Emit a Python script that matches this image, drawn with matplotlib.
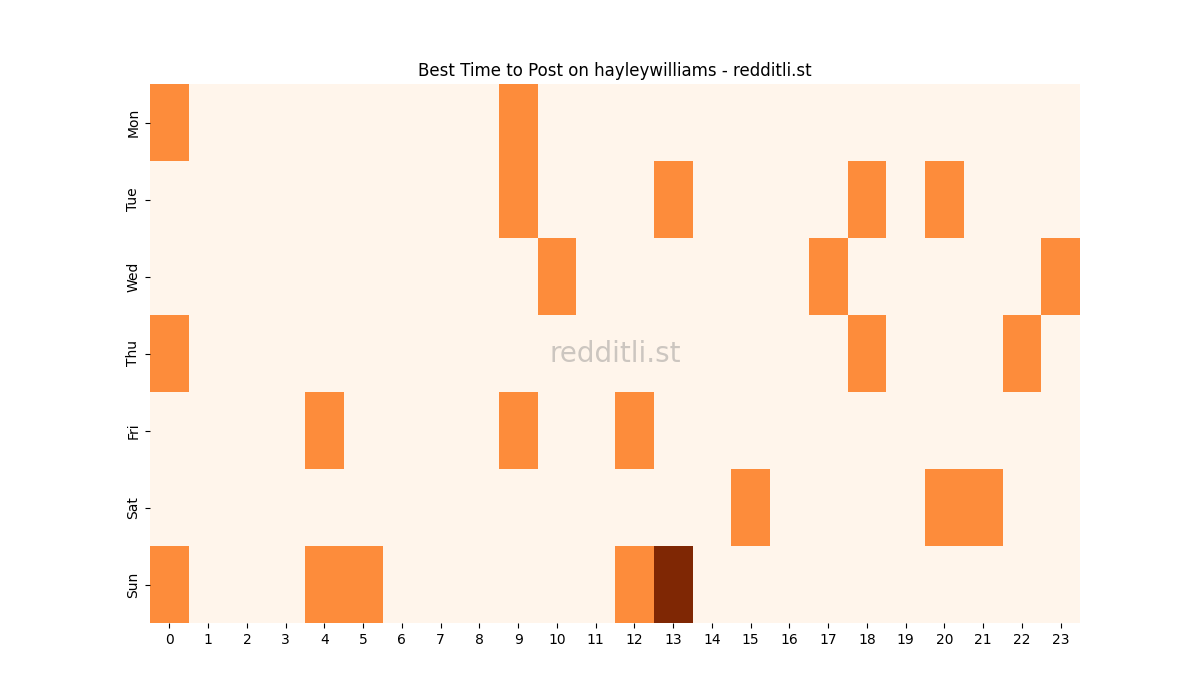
import matplotlib
matplotlib.use("Agg")
import matplotlib.pyplot as plt
import numpy as np
import seaborn as sns

days = ["Mon", "Tue", "Wed", "Thu", "Fri", "Sat", "Sun"]
hours = list(range(24))

# hours with posts per day (value 1), plus peak cells (value 2)
active = {
    "Mon": [0, 9],
    "Tue": [9, 13, 18, 20],
    "Wed": [10, 17, 23],
    "Thu": [0, 18, 22],
    "Fri": [4, 9, 12],
    "Sat": [15, 20, 21],
    "Sun": [0, 4, 5, 12],
}
peak = {"Sun": [13]}

grid = np.zeros((len(days), len(hours)))
for i, d in enumerate(days):
    for h in active.get(d, []):
        grid[i, h] = 1
    for h in peak.get(d, []):
        grid[i, h] = 2

fig, ax = plt.subplots(figsize=(12, 7), dpi=100)
sns.heatmap(grid, cmap="Oranges", cbar=False, ax=ax,
            xticklabels=hours, yticklabels=days)
ax.set_title("Best Time to Post on hayleywilliams - redditli.st")
ax.text(0.5, 0.5, "redditli.st", transform=ax.transAxes, ha="center",
        va="center", fontsize=20, color="gray", alpha=0.4)
plt.yticks(rotation=90, va="center")
plt.xticks(rotation=0)
fig.savefig("out.png")
